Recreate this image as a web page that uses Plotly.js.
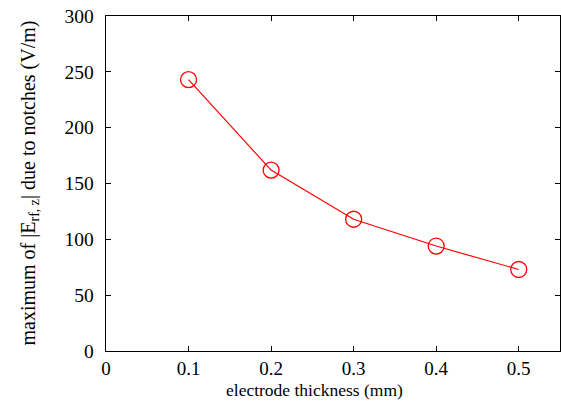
<!DOCTYPE html>
<html><head><meta charset="utf-8">
<script src="https://cdn.plot.ly/plotly-3.0.1.min.js"></script>
<style>html,body{margin:0;padding:0;background:#fff}#chart{width:561px;height:412px}</style>
</head><body><div id="chart"></div>
<script>
const thickness = [0.1, 0.2, 0.3, 0.4, 0.5];
const maxField = [243, 162, 118, 94, 73];
const xTicks = [0, 0.1, 0.2, 0.3, 0.4, 0.5];
const xTickLabels = ['0', '0.1', '0.2', '0.3', '0.4', '0.5'];
const yTicks = [0, 50, 100, 150, 200, 250, 300];
const xTitle = 'electrode thickness (mm)';
const yTitle = 'maximum of |E<sub>rf, z</sub>| due to notches (V/m)';

const fam = '"Liberation Serif", "Times New Roman", serif';
Plotly.newPlot('chart', [{
  x: thickness, y: maxField, type: 'scatter', mode: 'lines+markers',
  line: {color: '#ff0000', width: 1.2},
  marker: {symbol: 'circle-open', size: 16, color: '#ff0000', line: {width: 1.3, color: '#ff0000'}}
}], {
  width: 561, height: 412,
  margin: {l: 106, r: 1, t: 16, b: 61},
  paper_bgcolor: '#fff', plot_bgcolor: '#fff',
  showlegend: false,
  font: {family: fam, size: 17, color: '#000'},
  xaxis: {
    range: [0, 0.55], tickvals: xTicks, ticktext: xTickLabels,
    ticks: 'inside', ticklen: 5, tickwidth: 1, tickcolor: '#000',
    showline: true, linecolor: '#000', linewidth: 1.3, mirror: 'ticks',
    showgrid: false, zeroline: false, ticklabelstandoff: 0,
    tickfont: {family: fam, size: 19, color: '#000'}
  },
  yaxis: {
    range: [0, 300], tickvals: yTicks,
    ticks: 'inside', ticklen: 5, tickwidth: 1, tickcolor: '#000',
    showline: true, linecolor: '#000', linewidth: 1.3, mirror: 'ticks',
    showgrid: false, zeroline: false, ticklabelstandoff: 7,
    tickfont: {family: fam, size: 19.5, color: '#000'}
  },
  annotations: [
    {text: xTitle, xref: 'paper', yref: 'paper', x: 0.46, y: 0, yshift: -39, xanchor: 'center', yanchor: 'middle',
     showarrow: false, font: {family: fam, size: 17.5, color: '#000'}},
    {text: yTitle, xref: 'paper', yref: 'paper', x: 0, y: 0.5, xshift: -77, xanchor: 'center', yanchor: 'middle',
     textangle: -90, showarrow: false, font: {family: fam, size: 20, color: '#000'}}
  ]
}, {displayModeBar: false, staticPlot: true});
</script></body></html>
